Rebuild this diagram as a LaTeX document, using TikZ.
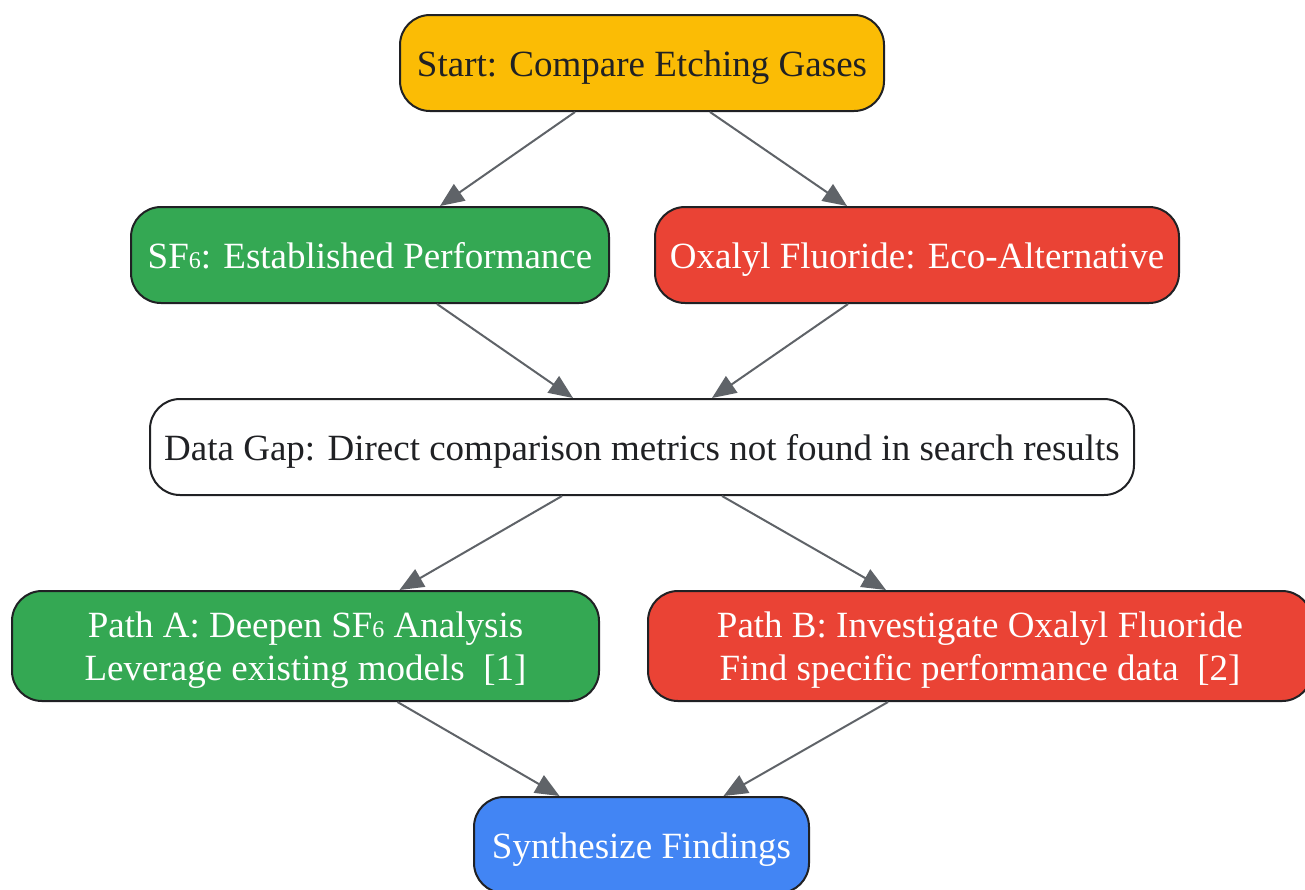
\documentclass[tikz,border=0pt]{standalone}
\usepackage{fontspec}
\setmainfont{Liberation Serif}
\usetikzlibrary{arrows.meta}
\definecolor{gyellow}{HTML}{FBBC05}
\definecolor{ggreen}{HTML}{34A853}
\definecolor{gred}{HTML}{EA4335}
\definecolor{gblue}{HTML}{4285F4}
\definecolor{gdark}{HTML}{202124}
\definecolor{ggray}{HTML}{5F6368}
\newcommand{\sfsix}{SF{\fontsize{12}{12}\selectfont 6}}
\begin{document}
\begin{tikzpicture}[x=0.5pt, y=-0.5pt, 
		box/.style = {draw=gdark, line width=1pt, rounded corners=15pt, inner sep=0pt, minimum height=48pt, align=center, font=\fontsize{18.5}{21.5}\selectfont, text height=17pt, text depth=4pt},
		dark/.style = {box, text=white},
		edge/.style = {draw=ggray, line width=1pt, -{Triangle[length=12pt,width=10pt]}}]
		
		\useasboundingbox (0,0) rectangle (1305,889);

		% steps
		\node[box, fill=gyellow, text=gdark, minimum width=242pt] (start) at (642,63) {Start: Compare Etching Gases};
		\node[dark, fill=ggreen, minimum width=239pt] (sf) at (370,255) {\sfsix: Established Performance};
		\node[dark, fill=gred, minimum width=262pt] (ox) at (917,255) {Oxalyl Fluoride: Eco-Alternative};
		\node[box, fill=white, text=gdark, minimum width=492pt] (gap) at (642,447) {Data Gap: Direct comparison metrics not found in search results};
		\node[dark, fill=ggreen, minimum width=293.5pt, minimum height=55pt, text height=38.5pt] (pa) at (305.5,646) {Path A: Deepen \sfsix\ Analysis\\Leverage existing models~~[1]};
		\node[dark, fill=gred, minimum width=332pt, minimum height=55pt, text height=38.5pt] (pb) at (980,646) {Path B: Investigate Oxalyl Fluoride\\Find specific performance data~~[2]};
		\node[dark, fill=gblue, minimum width=167.5pt] (syn) at (641.5,845) {Synthesize Findings};

		% arrows
		\draw[edge] ([xshift=-33.5pt]start.south) -- ([xshift=35pt]sf.north);
		\draw[edge] ([xshift=34pt]start.south) -- ([xshift=-35pt]ox.north);
		\draw[edge] ([xshift=33.5pt]sf.south) -- ([xshift=-34.5pt]gap.north);
		\draw[edge] ([xshift=-34.5pt]ox.south) -- ([xshift=35pt]gap.north);
		\draw[edge] ([xshift=-40pt]gap.south) -- ([xshift=47pt]pa.north);
		\draw[edge] ([xshift=40pt]gap.south) -- ([xshift=-47pt]pb.north);
		\draw[edge] ([xshift=46pt]pa.south) -- ([xshift=-41pt]syn.north);
		\draw[edge] ([xshift=-46pt]pb.south) -- ([xshift=41pt]syn.north);

	\end{tikzpicture}
\end{document}
